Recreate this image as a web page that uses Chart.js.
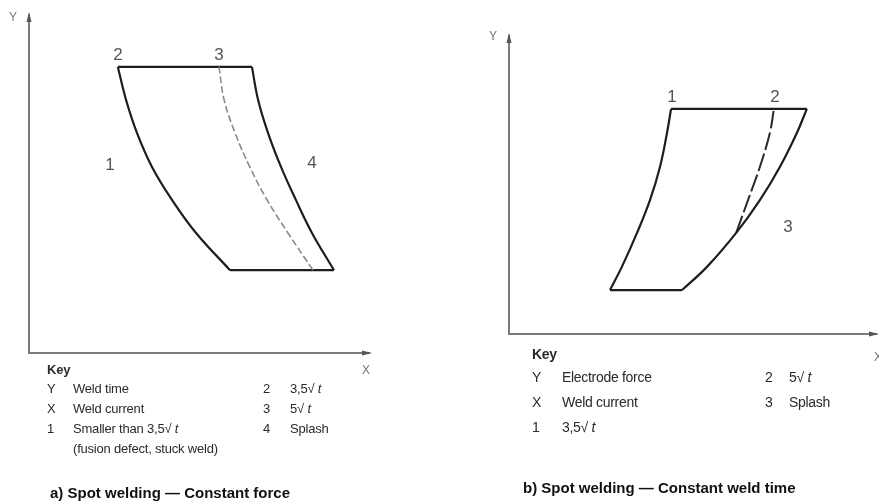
<!DOCTYPE html>
<html>
<head>
<meta charset="utf-8">
<script src="https://cdn.jsdelivr.net/npm/chart.js@4.4.1/dist/chart.umd.min.js"></script>
<style>
  html, body { margin: 0; padding: 0; background: #fff; }
  #wrap { position: relative; width: 879px; height: 502px; overflow: hidden; font-family: "Liberation Sans", Arial, sans-serif; color: #2a2a2a; }
  canvas { position: absolute; top: 0; }
  .t { position: absolute; transform: translateY(-50%); white-space: nowrap; }
  .num { font-family: "Liberation Sans Narrow", "Liberation Sans", sans-serif; font-size: 17px; color: #555; transform: translate(-50%, -50%); }
  .ax { font-family: "Liberation Sans Narrow", sans-serif; font-size: 12px; color: #777; transform: translate(-50%, -50%); }
  .ka { font-size: 13px; letter-spacing: -0.2px; }
  .kb { font-size: 14px; letter-spacing: -0.3px; }
  .key { font-weight: bold; }
  .title { font-size: 15px; font-weight: bold; color: #111; }
</style>
</head>
<body>
<div id="wrap">
  <canvas id="ca" width="440" height="502" style="left:0"></canvas>
  <canvas id="cb" width="439" height="502" style="left:440px"></canvas>

  <!-- panel a texts -->
  <div class="t ax" style="left:13px;top:17px">Y</div>
  <div class="t ax" style="left:366px;top:370px">X</div>
  <div class="t num" style="left:118px;top:55px">2</div>
  <div class="t num" style="left:219px;top:55px">3</div>
  <div class="t num" style="left:110px;top:165px">1</div>
  <div class="t num" style="left:312px;top:163px">4</div>

  <div class="t ka key" style="left:47px;top:369px">Key</div>
  <div class="t ka" style="left:47px;top:388px">Y</div>
  <div class="t ka" style="left:73px;top:388px">Weld time</div>
  <div class="t ka" style="left:47px;top:408px">X</div>
  <div class="t ka" style="left:73px;top:408px">Weld current</div>
  <div class="t ka" style="left:47px;top:428px">1</div>
  <div class="t ka" style="left:73px;top:428px">Smaller than 3,5√ <i>t</i></div>
  <div class="t ka" style="left:73px;top:448px">(fusion defect, stuck weld)</div>
  <div class="t ka" style="left:263px;top:388px">2</div>
  <div class="t ka" style="left:290px;top:388px">3,5√ <i>t</i></div>
  <div class="t ka" style="left:263px;top:408px">3</div>
  <div class="t ka" style="left:290px;top:408px">5√ <i>t</i></div>
  <div class="t ka" style="left:263px;top:428px">4</div>
  <div class="t ka" style="left:290px;top:428px">Splash</div>
  <div class="t title" style="left:50px;top:492px">a) Spot welding — Constant force</div>

  <!-- panel b texts -->
  <div class="t ax" style="left:493px;top:36px">Y</div>
  <div class="t ax" style="left:878px;top:357px">X</div>
  <div class="t num" style="left:672px;top:97px">1</div>
  <div class="t num" style="left:775px;top:97px">2</div>
  <div class="t num" style="left:788px;top:227px">3</div>

  <div class="t kb key" style="left:532px;top:354px">Key</div>
  <div class="t kb" style="left:532px;top:377px">Y</div>
  <div class="t kb" style="left:562px;top:377px">Electrode force</div>
  <div class="t kb" style="left:532px;top:402px">X</div>
  <div class="t kb" style="left:562px;top:402px">Weld current</div>
  <div class="t kb" style="left:532px;top:427px">1</div>
  <div class="t kb" style="left:562px;top:427px">3,5√ <i>t</i></div>
  <div class="t kb" style="left:765px;top:377px">2</div>
  <div class="t kb" style="left:789px;top:377px">5√ <i>t</i></div>
  <div class="t kb" style="left:765px;top:402px">3</div>
  <div class="t kb" style="left:789px;top:402px">Splash</div>
  <div class="t title" style="left:523px;top:487px">b) Spot welding — Constant weld time</div>
</div>

<script>
// ---------- Panel a: Constant force (weld time vs weld current), bottom to top ----------
const aTime      = [24.3, 35.2, 44.9, 54.5, 64.5, 74.2, 83.9];      // weld time levels (arb. units)
const aCurrentLo = [58.6, 48.7, 41.7, 35.9, 31.5, 28.3, 25.9];      // curve 2: 3,5√t
const aCurrentHi = [82.8, 75.5, 69.4, 64.4, 60.1, 56.9, 55.4];      // curve 3: 5√t (dashed)
const aSplash    = [88.9, 82.5, 77.8, 73.5, 69.7, 66.8, 65.0];      // curve 4: splash

// ---------- Panel b: Constant weld time (electrode force vs weld current), bottom to top ----------
const bForce     = [14.6, 22.3, 33.6, 44.5, 55.5, 66.8, 74.8];      // electrode force levels
const bCurrentLo = [27.3, 30.5, 34.6, 38.1, 40.8, 42.7, 43.8];      // curve 1: 3,5√t
const bSplash    = [46.8, 53.5, 61.4, 67.8, 73.2, 77.8, 80.5];      // curve 3: splash
const bForceHi   = [33.6, 44.5, 55.5, 66.8, 74.8];
const bCurrentHi = [61.4, 64.6, 67.8, 70.5, 71.6];                  // curve 2: 5√t (dashed)

const pts = (xs, ys) => xs.map((x, i) => ({ x, y: ys[i] }));
const last = a => a[a.length - 1];

const axisPlugin = {
  id: 'arrowAxes',
  beforeDatasetsDraw(chart) {
    const { ctx, chartArea: ca } = chart;
    ctx.save();
    ctx.strokeStyle = '#7a7a7a';
    ctx.fillStyle = '#555';
    ctx.lineWidth = 2;
    ctx.beginPath();
    ctx.moveTo(ca.left, ca.top + 2);
    ctx.lineTo(ca.left, ca.bottom);
    ctx.lineTo(ca.right - 2, ca.bottom);
    ctx.stroke();
    ctx.beginPath();
    ctx.moveTo(ca.left, ca.top);
    ctx.lineTo(ca.left - 2.5, ca.top + 10);
    ctx.lineTo(ca.left + 2.5, ca.top + 10);
    ctx.closePath();
    ctx.fill();
    ctx.beginPath();
    ctx.moveTo(ca.right, ca.bottom);
    ctx.lineTo(ca.right - 10, ca.bottom - 2.5);
    ctx.lineTo(ca.right - 10, ca.bottom + 2.5);
    ctx.closePath();
    ctx.fill();
    ctx.restore();
  }
};

function curve(data) {
  return { data, showLine: true, pointRadius: 0, borderColor: '#1e1e1e', borderWidth: 2.2, tension: 0.4, fill: false };
}
function edge(data) {
  return { data, showLine: true, pointRadius: 0, borderColor: '#1e1e1e', borderWidth: 2.2, tension: 0, fill: false };
}

function makeChart(id, datasets, padding) {
  return new Chart(document.getElementById(id), {
    type: 'scatter',
    data: { datasets },
    options: {
      responsive: false,
      animation: false,
      layout: { padding },
      scales: {
        x: { type: 'linear', min: 0, max: 100, display: false },
        y: { type: 'linear', min: 0, max: 100, display: false }
      },
      plugins: { legend: { display: false }, tooltip: { enabled: false } }
    },
    plugins: [axisPlugin]
  });
}

makeChart('ca', [
  curve(pts(aCurrentLo, aTime)),
  curve(pts(aSplash, aTime)),
  Object.assign(curve(pts(aCurrentHi, aTime)), { borderColor: '#8a8a8a', borderWidth: 1.6, borderDash: [7, 3] }),
  edge([{ x: last(aCurrentLo), y: last(aTime) }, { x: last(aSplash), y: last(aTime) }]),
  edge([{ x: aCurrentLo[0], y: aTime[0] }, { x: aSplash[0], y: aTime[0] }])
], { left: 29, top: 12, right: 68, bottom: 149 });

makeChart('cb', [
  curve(pts(bCurrentLo, bForce)),
  curve(pts(bSplash, bForce)),
  Object.assign(curve(pts(bCurrentHi, bForceHi)), { borderColor: '#2a2a2a', borderWidth: 2, borderDash: [18, 4] }),
  edge([{ x: last(bCurrentLo), y: last(bForce) }, { x: last(bSplash), y: last(bForce) }]),
  edge([{ x: bCurrentLo[0], y: bForce[0] }, { x: bSplash[0], y: bForce[0] }])
], { left: 69, top: 33, right: 0, bottom: 168 });
</script>
</body>
</html>
